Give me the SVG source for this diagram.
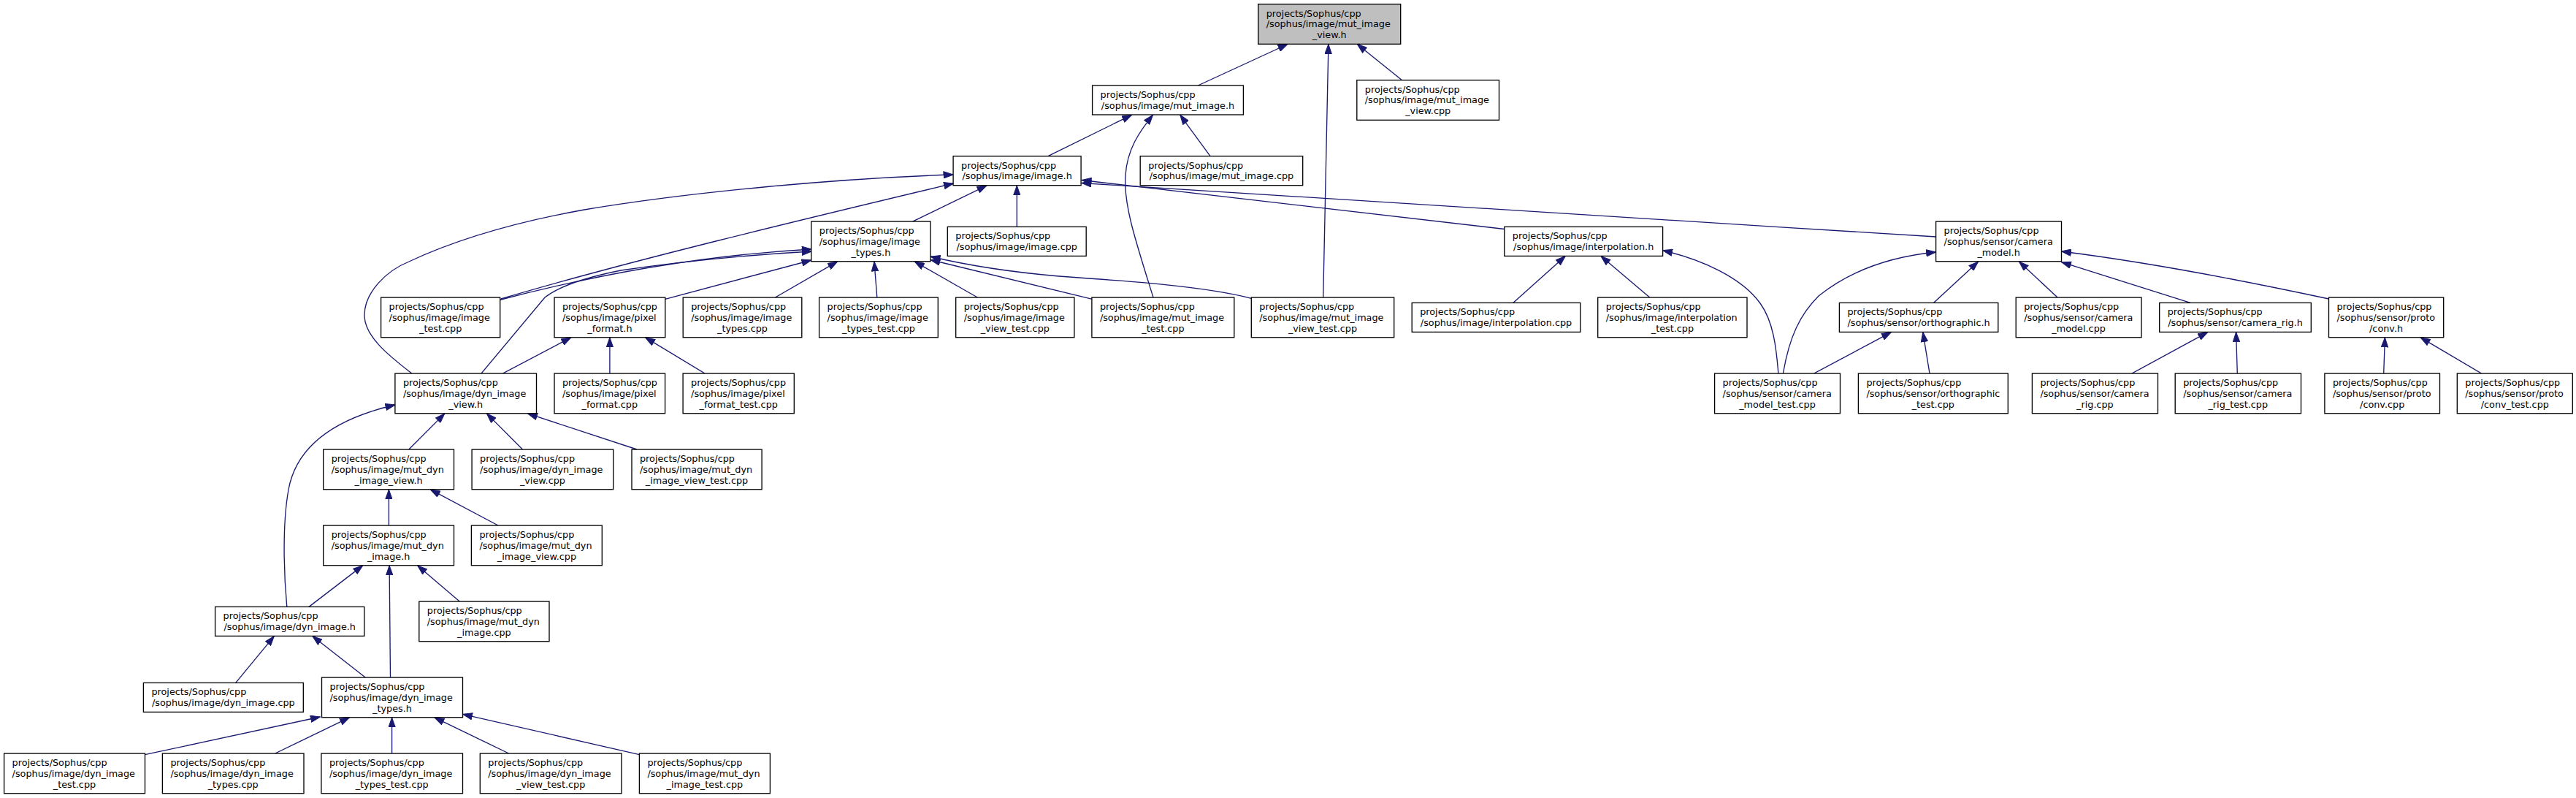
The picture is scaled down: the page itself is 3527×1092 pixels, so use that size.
<svg xmlns="http://www.w3.org/2000/svg" width="3527" height="1092" viewBox="0 0 3527 1092">
<defs>
<style>
rect{fill:#ffffff;stroke:#000000;stroke-width:1.33}
rect.root{fill:#bfbfbf}
text{font-family:"DejaVu Sans","Liberation Sans",sans-serif;font-size:12.8px;fill:#000000}
text.c{text-anchor:middle}
#edges path{fill:none;stroke:#191970;stroke-width:1.33;marker-end:url(#arr)}
</style>
<marker id="arr" markerUnits="userSpaceOnUse" viewBox="0 0 14 10" markerWidth="14" markerHeight="10" refX="13.5" refY="5" orient="auto">
<path d="M0.5,0.4 L13.5,5 L0.5,9.6 Z" fill="#191970" stroke="#191970" stroke-width="1"/>
</marker>
</defs>
<rect x="0" y="0" width="3527" height="1092" style="fill:#ffffff;stroke:none"/>
<g id="edges">
<path d="M1640.3,117 L1763,60.5"/>
<path d="M1919.6,109.7 L1858.3,60.5"/>
<path d="M1811.7,407 L1818.9,60.5"/>
<path d="M1435,213.7 L1549.5,157.3"/>
<path d="M1579,407 C1555,330 1538,280 1541,240 C1543,205 1560,180 1578.5,157.3"/>
<path d="M1657,213.7 L1615.8,157.3"/>
<path d="M1392.3,310.4 L1392.3,253.9"/>
<path d="M1249.6,303.1 L1351,253.9"/>
<path d="M2059.8,313.5 L1481,246.5"/>
<path d="M2650.6,324 C2200,296 1700,265 1481,250.5"/>
<path d="M563.8,511 C530,485 500,460 499,433 C498,400 530,370 560,358 C620,330 700,305 800,287 C950,262 1150,244 1305,239"/>
<path d="M685.8,409 C850,360 1100,300 1305.5,251"/>
<path d="M684,410.5 C800,380 950,350 1111.2,341"/>
<path d="M659,511 L746,407 C765,392 800,380 850,370 C950,355 1040,348 1111.2,344"/>
<path d="M910.8,409.3 L1111,356"/>
<path d="M1061.5,407 L1146.6,357.9"/>
<path d="M1200.8,407 L1197,357.9"/>
<path d="M1338.3,407 L1252.3,357.9"/>
<path d="M1495.4,409.3 L1274,355.5"/>
<path d="M1713.3,408.3 C1650,392 1550,385 1450,378 C1380,372 1320,362 1274,351"/>
<path d="M2071.7,414.4 L2143.2,350.6"/>
<path d="M2258.7,407 L2192,350.6"/>
<path d="M2434.9,511 C2432,475 2428,440 2410,415 C2385,380 2330,355 2276.6,342.7"/>
<path d="M2441.4,511 C2450,460 2465,430 2490,405 C2540,365 2600,350 2650.6,345"/>
<path d="M2483.7,511 L2589.4,454.6"/>
<path d="M2642,511 L2632.8,454.6"/>
<path d="M2647.4,414.4 L2708.6,357.9"/>
<path d="M2817,407 L2764.5,357.9"/>
<path d="M2999,414.4 L2822.5,358.7"/>
<path d="M3188.5,409 C3100,390 2950,360 2822.5,344"/>
<path d="M2919,511 L3022.7,454.6"/>
<path d="M3063.3,511 L3061.6,454.6"/>
<path d="M3263.7,511 L3265.4,461.9"/>
<path d="M3397.5,511 L3314.2,461.9"/>
<path d="M688.5,511 L781.8,461.9"/>
<path d="M834.9,511 L834.9,461.9"/>
<path d="M965,511 L883.7,461.9"/>
<path d="M559.8,615 L608.9,565.9"/>
<path d="M715.5,615 L666.4,565.9"/>
<path d="M872,615 L722.5,565.9"/>
<path d="M392.8,830.4 C389,790 386,720 395,670 C405,615 450,575 540.9,554"/>
<path d="M532.4,719 L532.4,669.9"/>
<path d="M681.9,719 L589.3,669.9"/>
<path d="M423,830.4 L496.7,773.9"/>
<path d="M534.5,927 L533.1,773.9"/>
<path d="M629.2,823 L571.7,773.9"/>
<path d="M322.7,934.4 L375.3,870.6"/>
<path d="M500.2,927 L427.9,870.6"/>
<path d="M198.5,1032.7 L438.4,981"/>
<path d="M376.7,1031 L478.4,981.9"/>
<path d="M536.6,1031 L536.6,981.9"/>
<path d="M696.6,1031 L594.9,981.9"/>
<path d="M875.4,1032.7 L633.5,977.3"/>
</g>
<g id="n_root"><rect class="root" x="1722.7" y="5.67" width="195" height="54.67"/><text x="1733.7" y="22.7">projects/Sophus/cpp</text><text x="1733.7" y="37.4">/sophus/image/mut_image</text><text class="c" x="1820.2" y="52.1">_view.h</text></g>
<g id="n_mut_image_h"><rect x="1495.6" y="117" width="206.8" height="40"/><text x="1506.6" y="134">projects/Sophus/cpp</text><text class="c" x="1599" y="148.7">/sophus/image/mut_image.h</text></g>
<g id="n_mut_image_view_cpp"><rect x="1857.8" y="109.67" width="194.7" height="54.67"/><text x="1868.8" y="126.7">projects/Sophus/cpp</text><text x="1868.8" y="141.4">/sophus/image/mut_image</text><text class="c" x="1955.2" y="156.1">_view.cpp</text></g>
<g id="n_image_h"><rect x="1305.1" y="213.7" width="175" height="40"/><text x="1316.1" y="230.7">projects/Sophus/cpp</text><text class="c" x="1392.6" y="245.4">/sophus/image/image.h</text></g>
<g id="n_mut_image_cpp"><rect x="1561.2" y="213.7" width="222.5" height="40"/><text x="1572.2" y="230.7">projects/Sophus/cpp</text><text class="c" x="1672.5" y="245.4">/sophus/image/mut_image.cpp</text></g>
<g id="n_image_types_h"><rect x="1110.8" y="303.07" width="163.2" height="54.67"/><text x="1121.8" y="320.1">projects/Sophus/cpp</text><text x="1121.8" y="334.8">/sophus/image/image</text><text class="c" x="1192.4" y="349.5">_types.h</text></g>
<g id="n_image_cpp"><rect x="1297.3" y="310.4" width="189.9" height="40"/><text x="1308.3" y="327.4">projects/Sophus/cpp</text><text class="c" x="1392.2" y="342.1">/sophus/image/image.cpp</text></g>
<g id="n_interpolation_h"><rect x="2059.8" y="310.4" width="216.8" height="40"/><text x="2070.8" y="327.4">projects/Sophus/cpp</text><text class="c" x="2168.2" y="342.1">/sophus/image/interpolation.h</text></g>
<g id="n_camera_model_h"><rect x="2650.6" y="303.07" width="171.9" height="54.67"/><text x="2661.6" y="320.1">projects/Sophus/cpp</text><text x="2661.6" y="334.8">/sophus/sensor/camera</text><text class="c" x="2736.6" y="349.5">_model.h</text></g>
<g id="n_image_test_cpp"><rect x="521.6" y="407.07" width="163.1" height="54.67"/><text x="532.6" y="424.1">projects/Sophus/cpp</text><text x="532.6" y="438.8">/sophus/image/image</text><text class="c" x="603.2" y="453.5">_test.cpp</text></g>
<g id="n_pixel_format_h"><rect x="759" y="407.07" width="151.8" height="54.67"/><text x="770" y="424.1">projects/Sophus/cpp</text><text x="770" y="438.8">/sophus/image/pixel</text><text class="c" x="834.9" y="453.5">_format.h</text></g>
<g id="n_image_types_cpp"><rect x="935.2" y="407.07" width="162.6" height="54.67"/><text x="946.2" y="424.1">projects/Sophus/cpp</text><text x="946.2" y="438.8">/sophus/image/image</text><text class="c" x="1016.5" y="453.5">_types.cpp</text></g>
<g id="n_image_types_test_cpp"><rect x="1121.6" y="407.07" width="162.7" height="54.67"/><text x="1132.6" y="424.1">projects/Sophus/cpp</text><text x="1132.6" y="438.8">/sophus/image/image</text><text class="c" x="1203" y="453.5">_types_test.cpp</text></g>
<g id="n_image_view_test_cpp"><rect x="1308.7" y="407.07" width="162.2" height="54.67"/><text x="1319.7" y="424.1">projects/Sophus/cpp</text><text x="1319.7" y="438.8">/sophus/image/image</text><text class="c" x="1389.8" y="453.5">_view_test.cpp</text></g>
<g id="n_mut_image_test_cpp"><rect x="1494.9" y="407.07" width="194.9" height="54.67"/><text x="1505.9" y="424.1">projects/Sophus/cpp</text><text x="1505.9" y="438.8">/sophus/image/mut_image</text><text class="c" x="1592.4" y="453.5">_test.cpp</text></g>
<g id="n_mut_image_view_test_cpp"><rect x="1713.3" y="407.07" width="195.4" height="54.67"/><text x="1724.3" y="424.1">projects/Sophus/cpp</text><text x="1724.3" y="438.8">/sophus/image/mut_image</text><text class="c" x="1811" y="453.5">_view_test.cpp</text></g>
<g id="n_interpolation_cpp"><rect x="1933.2" y="414.4" width="230.6" height="40"/><text x="1944.2" y="431.4">projects/Sophus/cpp</text><text class="c" x="2048.5" y="446.1">/sophus/image/interpolation.cpp</text></g>
<g id="n_interpolation_test_cpp"><rect x="2187.7" y="407.07" width="204.3" height="54.67"/><text x="2198.7" y="424.1">projects/Sophus/cpp</text><text x="2198.7" y="438.8">/sophus/image/interpolation</text><text class="c" x="2289.9" y="453.5">_test.cpp</text></g>
<g id="n_orthographic_h"><rect x="2518.4" y="414.4" width="217.4" height="40"/><text x="2529.4" y="431.4">projects/Sophus/cpp</text><text class="c" x="2627.1" y="446.1">/sophus/sensor/orthographic.h</text></g>
<g id="n_camera_model_cpp"><rect x="2760.2" y="407.07" width="171.8" height="54.67"/><text x="2771.2" y="424.1">projects/Sophus/cpp</text><text x="2771.2" y="438.8">/sophus/sensor/camera</text><text class="c" x="2846.1" y="453.5">_model.cpp</text></g>
<g id="n_camera_rig_h"><rect x="2956.7" y="414.4" width="207.6" height="40"/><text x="2967.7" y="431.4">projects/Sophus/cpp</text><text class="c" x="3060.5" y="446.1">/sophus/sensor/camera_rig.h</text></g>
<g id="n_conv_h"><rect x="3188.5" y="407.07" width="157.2" height="54.67"/><text x="3199.5" y="424.1">projects/Sophus/cpp</text><text x="3199.5" y="438.8">/sophus/sensor/proto</text><text class="c" x="3267.1" y="453.5">/conv.h</text></g>
<g id="n_dyn_image_view_h"><rect x="540.9" y="511.07" width="193.6" height="54.67"/><text x="551.9" y="528.1">projects/Sophus/cpp</text><text x="551.9" y="542.8">/sophus/image/dyn_image</text><text class="c" x="637.7" y="557.5">_view.h</text></g>
<g id="n_pixel_format_cpp"><rect x="759" y="511.07" width="151.6" height="54.67"/><text x="770" y="528.1">projects/Sophus/cpp</text><text x="770" y="542.8">/sophus/image/pixel</text><text class="c" x="834.8" y="557.5">_format.cpp</text></g>
<g id="n_pixel_format_test_cpp"><rect x="935.1" y="511.07" width="152.2" height="54.67"/><text x="946.1" y="528.1">projects/Sophus/cpp</text><text x="946.1" y="542.8">/sophus/image/pixel</text><text class="c" x="1011.2" y="557.5">_format_test.cpp</text></g>
<g id="n_camera_model_test_cpp"><rect x="2347.6" y="511.07" width="171.9" height="54.67"/><text x="2358.6" y="528.1">projects/Sophus/cpp</text><text x="2358.6" y="542.8">/sophus/sensor/camera</text><text class="c" x="2433.5" y="557.5">_model_test.cpp</text></g>
<g id="n_orthographic_test_cpp"><rect x="2544.4" y="511.07" width="204.9" height="54.67"/><text x="2555.4" y="528.1">projects/Sophus/cpp</text><text x="2555.4" y="542.8">/sophus/sensor/orthographic</text><text class="c" x="2646.8" y="557.5">_test.cpp</text></g>
<g id="n_camera_rig_cpp"><rect x="2782.4" y="511.07" width="172.1" height="54.67"/><text x="2793.4" y="528.1">projects/Sophus/cpp</text><text x="2793.4" y="542.8">/sophus/sensor/camera</text><text class="c" x="2868.4" y="557.5">_rig.cpp</text></g>
<g id="n_camera_rig_test_cpp"><rect x="2978.2" y="511.07" width="172.3" height="54.67"/><text x="2989.2" y="528.1">projects/Sophus/cpp</text><text x="2989.2" y="542.8">/sophus/sensor/camera</text><text class="c" x="3064.3" y="557.5">_rig_test.cpp</text></g>
<g id="n_conv_cpp"><rect x="3182.9" y="511.07" width="157.6" height="54.67"/><text x="3193.9" y="528.1">projects/Sophus/cpp</text><text x="3193.9" y="542.8">/sophus/sensor/proto</text><text class="c" x="3261.7" y="557.5">/conv.cpp</text></g>
<g id="n_conv_test_cpp"><rect x="3364.3" y="511.07" width="158" height="54.67"/><text x="3375.3" y="528.1">projects/Sophus/cpp</text><text x="3375.3" y="542.8">/sophus/sensor/proto</text><text class="c" x="3443.3" y="557.5">/conv_test.cpp</text></g>
<g id="n_mut_dyn_image_view_h"><rect x="442.7" y="615.07" width="178.8" height="54.67"/><text x="453.7" y="632.1">projects/Sophus/cpp</text><text x="453.7" y="646.8">/sophus/image/mut_dyn</text><text class="c" x="532.1" y="661.5">_image_view.h</text></g>
<g id="n_dyn_image_view_cpp"><rect x="646.1" y="615.07" width="193.6" height="54.67"/><text x="657.1" y="632.1">projects/Sophus/cpp</text><text x="657.1" y="646.8">/sophus/image/dyn_image</text><text class="c" x="742.9" y="661.5">_view.cpp</text></g>
<g id="n_mut_dyn_image_view_test_cpp"><rect x="865" y="615.07" width="178.1" height="54.67"/><text x="876" y="632.1">projects/Sophus/cpp</text><text x="876" y="646.8">/sophus/image/mut_dyn</text><text class="c" x="954" y="661.5">_image_view_test.cpp</text></g>
<g id="n_mut_dyn_image_h"><rect x="442.7" y="719.07" width="178.8" height="54.67"/><text x="453.7" y="736.1">projects/Sophus/cpp</text><text x="453.7" y="750.8">/sophus/image/mut_dyn</text><text class="c" x="532.1" y="765.5">_image.h</text></g>
<g id="n_mut_dyn_image_view_cpp"><rect x="645.4" y="719.07" width="178.9" height="54.67"/><text x="656.4" y="736.1">projects/Sophus/cpp</text><text x="656.4" y="750.8">/sophus/image/mut_dyn</text><text class="c" x="734.9" y="765.5">_image_view.cpp</text></g>
<g id="n_dyn_image_h"><rect x="294.6" y="830.4" width="204.2" height="40"/><text x="305.6" y="847.4">projects/Sophus/cpp</text><text class="c" x="396.7" y="862.1">/sophus/image/dyn_image.h</text></g>
<g id="n_mut_dyn_image_cpp"><rect x="573.8" y="823.07" width="178.2" height="54.67"/><text x="584.8" y="840.1">projects/Sophus/cpp</text><text x="584.8" y="854.8">/sophus/image/mut_dyn</text><text class="c" x="662.9" y="869.5">_image.cpp</text></g>
<g id="n_dyn_image_cpp"><rect x="196.4" y="934.4" width="218.9" height="40"/><text x="207.4" y="951.4">projects/Sophus/cpp</text><text class="c" x="305.9" y="966.1">/sophus/image/dyn_image.cpp</text></g>
<g id="n_dyn_image_types_h"><rect x="440.5" y="927.07" width="193" height="54.67"/><text x="451.5" y="944.1">projects/Sophus/cpp</text><text x="451.5" y="958.8">/sophus/image/dyn_image</text><text class="c" x="537" y="973.5">_types.h</text></g>
<g id="n_dyn_image_test_cpp"><rect x="5.6" y="1031.07" width="192.9" height="54.67"/><text x="16.6" y="1048.1">projects/Sophus/cpp</text><text x="16.6" y="1062.8">/sophus/image/dyn_image</text><text class="c" x="102" y="1077.5">_test.cpp</text></g>
<g id="n_dyn_image_types_cpp"><rect x="222.4" y="1031.07" width="193.6" height="54.67"/><text x="233.4" y="1048.1">projects/Sophus/cpp</text><text x="233.4" y="1062.8">/sophus/image/dyn_image</text><text class="c" x="319.2" y="1077.5">_types.cpp</text></g>
<g id="n_dyn_image_types_test_cpp"><rect x="439.9" y="1031.07" width="193.6" height="54.67"/><text x="450.9" y="1048.1">projects/Sophus/cpp</text><text x="450.9" y="1062.8">/sophus/image/dyn_image</text><text class="c" x="536.7" y="1077.5">_types_test.cpp</text></g>
<g id="n_dyn_image_view_test_cpp"><rect x="657.3" y="1031.07" width="193.7" height="54.67"/><text x="668.3" y="1048.1">projects/Sophus/cpp</text><text x="668.3" y="1062.8">/sophus/image/dyn_image</text><text class="c" x="754.2" y="1077.5">_view_test.cpp</text></g>
<g id="n_mut_dyn_image_test_cpp"><rect x="875.4" y="1031.07" width="179" height="54.67"/><text x="886.4" y="1048.1">projects/Sophus/cpp</text><text x="886.4" y="1062.8">/sophus/image/mut_dyn</text><text class="c" x="964.9" y="1077.5">_image_test.cpp</text></g>
</svg>
